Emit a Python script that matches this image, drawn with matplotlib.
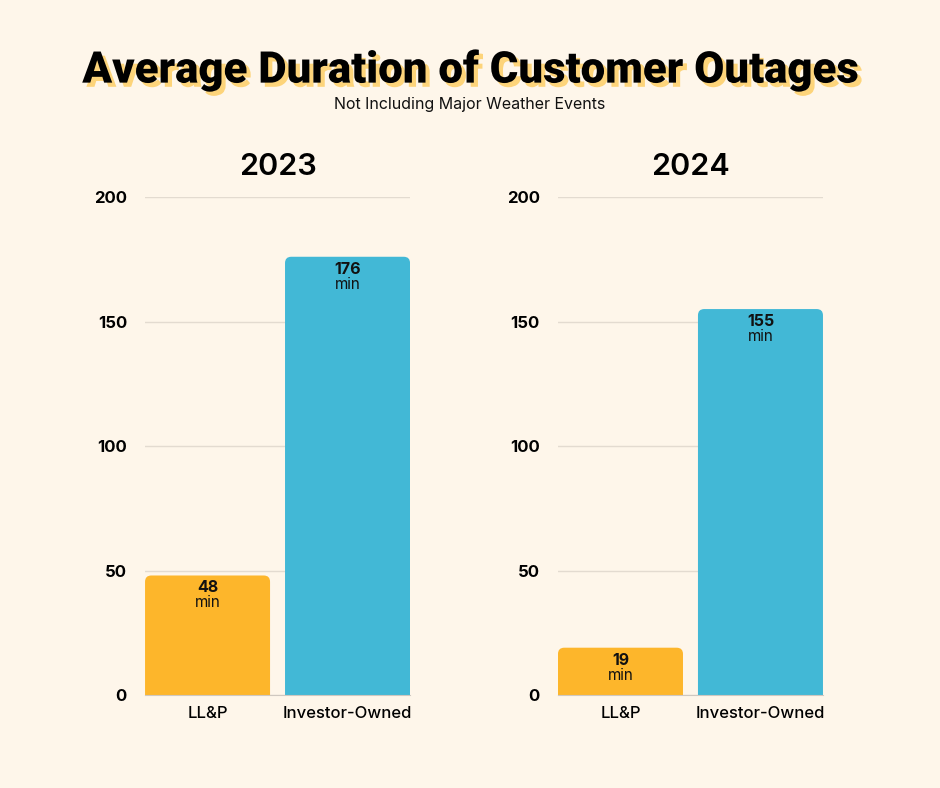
import matplotlib
matplotlib.use("Agg")
import matplotlib.pyplot as plt
import matplotlib.patheffects as pe
from matplotlib.patches import FancyBboxPatch

years = ["2023", "2024"]
categories = ["LL&P", "Investor-Owned"]
values_2023 = [48, 176]
values_2024 = [19, 155]
yticks = [0, 50, 100, 150, 200]

bg = "#fef6ea"
colors = ["#fdb62b", "#42b8d6"]

plt.rcParams["font.family"] = ["Inter", "DejaVu Sans"]

fig = plt.figure(figsize=(9.4, 7.88), dpi=100, facecolor=bg)

fig.text(0.5, 0.911, "Average Duration of Customer Outages", ha="center", va="center",
         fontsize=31.5, fontweight="black", family=["Roboto", "DejaVu Sans"], color="black",
         path_effects=[pe.withSimplePatchShadow(offset=(3, -3), shadow_rgbFace="#fdd47a", alpha=1)])
fig.text(0.5, 0.868, "Not Including Major Weather Events", ha="center", va="center",
         fontsize=11.5, color="#111111")

w = 0.893
for i, (year, vals) in enumerate(zip(years, [values_2023, values_2024])):
    left = 0.1543 if i == 0 else 0.5936
    ax = fig.add_axes([left, 0.118, 0.2819, 0.632])
    ax.set_facecolor(bg)
    bars = ax.bar([0, 1], vals, width=w, color=colors)
    ax.set_xlim(-w / 2, 1 + w / 2)
    ax.set_ylim(0, 200)
    # swap plain bars for ones with rounded tops
    for b, c in zip(bars, colors):
        x0, bw, h = b.get_x(), b.get_width(), b.get_height()
        b.remove()
        ax.add_patch(FancyBboxPatch((x0, -10), bw, h + 10,
                                    boxstyle="round,pad=0,rounding_size=0.045",
                                    mutation_aspect=56, facecolor=c, edgecolor="none",
                                    zorder=2))
        ax.text(x0 + bw / 2, h - 2, f"{h:.0f}", ha="center", va="top",
                fontsize=11.5, fontweight="bold", color="#111111", zorder=3)
        ax.text(x0 + bw / 2, h - 8, "min", ha="center", va="top",
                fontsize=11, color="#111111", zorder=3)
    ax.set_yticks(yticks)
    ax.set_yticklabels([str(t) for t in yticks], fontsize=12, fontweight="bold")
    ax.set_xticks([0, 1])
    ax.set_xticklabels(categories, fontsize=12, fontweight="medium")
    ax.tick_params(axis="y", length=0, pad=13)
    ax.tick_params(axis="x", length=0, pad=8)
    ax.grid(axis="y", color="#e3dbd0", linewidth=1)
    ax.set_axisbelow(True)
    for s in ["top", "right", "left"]:
        ax.spines[s].set_visible(False)
    ax.spines["bottom"].set_color("#cfc8c0")
    ax.set_title(year, fontsize=22, fontweight="semibold", pad=16)

fig.savefig("out.png", dpi=100, facecolor=bg)
